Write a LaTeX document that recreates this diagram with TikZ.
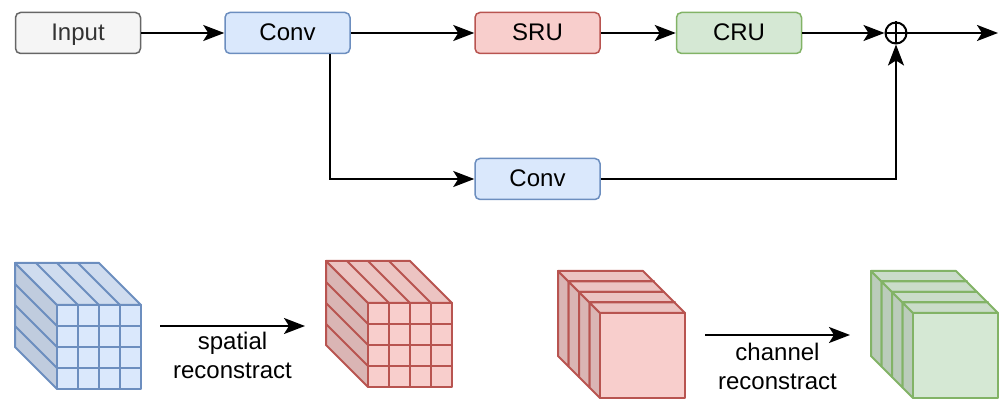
\documentclass[tikz,border=0pt]{standalone}
\usepackage{fontspec}
\setmainfont{Liberation Sans}
\usepackage{tikz}
\usepackage{xcolor}
\usetikzlibrary{arrows.meta,calc}
\definecolor{GrayFill}{HTML}{F5F5F5}
\definecolor{GrayLine}{HTML}{666666}
\definecolor{GrayText}{HTML}{333333}
\definecolor{BlueFill}{HTML}{DAE8FC}
\definecolor{BlueLine}{HTML}{6C8EBF}
\definecolor{RedFill}{HTML}{F8CECC}
\definecolor{RedLine}{HTML}{B85450}
\definecolor{GreenFill}{HTML}{D5E8D4}
\definecolor{GreenLine}{HTML}{82B366}

\begin{document}
\begin{tikzpicture}[x=0.5pt,y=-0.5pt,
  font=\fontsize{12}{14.5}\selectfont,
  block/.style={draw,rounded corners=2.5pt,line width=0.75pt,minimum width=62.5pt,minimum height=20.5pt,inner sep=0pt,text height=8.6pt,text depth=1.2pt},
  arr/.style={line width=1pt,-{Stealth[length=10.5pt,width=8pt,inset=2.5pt]}},
  cube/.style={line width=1pt,line join=round}]
  \useasboundingbox (0,0) rectangle (1003,399);

  % top row
  \node[block,fill=GrayFill,draw=GrayLine,text=GrayText] (input) at (78,33) {Input};
  \node[block,fill=BlueFill,draw=BlueLine] (conv1) at (287.5,33) {Conv};
  \node[block,fill=RedFill,draw=RedLine] (sru) at (537.5,33) {SRU};
  \node[block,fill=GreenFill,draw=GreenLine] (cru) at (739,33) {CRU};
  \node[block,fill=BlueFill,draw=BlueLine] (conv2) at (537.5,179) {Conv};
  \node[draw,circle,line width=1pt,minimum size=10.5pt,inner sep=0pt] (plus) at (896,33) {};
  \draw[line width=0.9pt] (plus.north) -- (plus.south) (plus.west) -- (plus.east);
  \coordinate (out) at (998,33);

  \draw[arr] (input) -- (conv1);
  \draw[arr] (conv1) -- (sru);
  \draw[arr] (sru) -- (cru);
  \draw[arr] (cru) -- (plus);
  \draw[arr] (plus) -- (out);
  \draw[arr] ([xshift=-10.5pt]conv1.south east) |- (conv2.west);
  \draw[arr] (conv2.east) -| (plus.south);

  % spatial cubes
  \foreach \sx/\sy/\fc/\lc in {57/305/BlueFill/BlueLine,368/303/RedFill/RedLine} {
    \begin{scope}[shift={(\sx,\sy)},cube,draw=\lc]
      \filldraw[fill=\fc!88!black] (0,0) -- (-42,-42) -- (-42,42) -- (0,84) -- cycle;
      \filldraw[fill=\fc!95!black] (0,0) -- (-42,-42) -- (42,-42) -- (84,0) -- cycle;
      \filldraw[fill=\fc] (0,0) rectangle (84,84);
      \foreach \k in {1,2,3} {
        \draw (\k*21,0) -- (\k*21,84);
        \draw (0,\k*21) -- (84,\k*21);
        \draw (\k*21,0) -- ++(-42,-42);
        \draw (0,\k*21) -- ++(-42,-42);
      }
    \end{scope}
  }

  % channel cubes
  \foreach \sx/\sy/\fc/\lc in {600/313/RedFill/RedLine,913/313/GreenFill/GreenLine} {
    \foreach \k in {3,2,1,0} {
      \begin{scope}[shift={(\sx-\k*10.5,\sy-\k*10.5)},cube,draw=\lc]
        \filldraw[fill=\fc!88!black] (0,0) -- (-10.5,-10.5) -- (-10.5,74.5) -- (0,85) -- cycle;
        \filldraw[fill=\fc!95!black] (0,0) -- (-10.5,-10.5) -- (74.5,-10.5) -- (85,0) -- cycle;
        \filldraw[fill=\fc] (0,0) rectangle (85,85);
      \end{scope}
    }
  }

  % reconstruction arrows
  \coordinate (s1) at (160,326);
  \coordinate (s2) at (305,326);
  \coordinate (c1) at (705,335);
  \coordinate (c2) at (850,335);
  \draw[arr] (s1) -- (s2) node[midway,below=-1pt,align=center] {spatial\\reconstract};
  \draw[arr] (c1) -- (c2) node[midway,below=0pt,align=center] {channel\\reconstract};
\end{tikzpicture}
\end{document}
